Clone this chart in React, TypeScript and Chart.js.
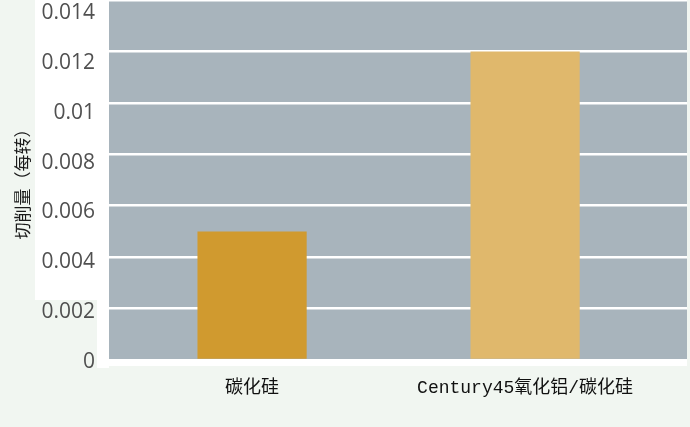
import { useEffect, useRef } from 'react'
import { Chart, registerables } from 'chart.js'

Chart.register(...registerables)

// chart data
const categories = ['碳化硅', 'Century45氧化铝/碳化硅']
const cutAmount = [0.005, 0.012]
const barColors = ['#d09a2f', '#e0b86c']
const yTicks = [0, 0.002, 0.004, 0.006, 0.008, 0.01, 0.012, 0.014]
const yTitle = '切削量（每转）'

// pale patch behind the y tick labels, like in the source image
const backdrop = {
  id: 'backdrop',
  beforeDraw(chart: Chart) {
    const { ctx, chartArea } = chart
    ctx.save()
    ctx.fillStyle = '#f1f6f1'
    ctx.fillRect(0, 0, chart.width, chart.height)
    ctx.fillStyle = '#ffffff'
    ctx.fillRect(35, 0, chartArea.left - 35, chartArea.bottom - 60)
    ctx.fillRect(chartArea.left - 12, 0, 12, chartArea.bottom + 8)
    ctx.fillRect(chartArea.left, chartArea.bottom, chartArea.right - chartArea.left, 6)
    ctx.fillStyle = '#a8b4bc'
    ctx.fillRect(chartArea.left, chartArea.top, chartArea.right - chartArea.left, chartArea.bottom - chartArea.top)
    ctx.restore()
  },
}

export default function App() {
  const canvasRef = useRef<HTMLCanvasElement>(null)

  useEffect(() => {
    document.body.style.margin = '0'
    if (!canvasRef.current) return

    const chart = new Chart(canvasRef.current, {
      type: 'bar',
      data: {
        datasets: [
          {
            data: cutAmount.map((v, i) => ({ x: i, y: v })),
            backgroundColor: barColors,
            borderWidth: 0,
            barPercentage: 0.4,
            categoryPercentage: 1,
            xAxisID: 'x',
            yAxisID: 'y',
          },
        ],
      },
      options: {
        animation: false,
        responsive: true,
        maintainAspectRatio: false,
        layout: { padding: { top: 0, right: 3, bottom: 0, left: 0 } },
        plugins: {
          legend: { display: false },
          tooltip: { enabled: false },
        },
        scales: {
          x: {
            type: 'linear',
            offset: false,
            min: -0.524,
            max: 1.593,
            grid: { display: false },
            border: { display: false },
            afterBuildTicks: (scale: any) => {
              scale.ticks = categories.map((_, i) => ({ value: i }))
            },
            afterFit: (scale: any) => {
              scale.height = 67
              scale.paddingLeft = 0
              scale.paddingRight = 0
            },
            ticks: {
              padding: 9,
              color: '#111111',
              maxRotation: 0,
              autoSkip: false,
              font: { family: '"Liberation Mono", "Noto Sans CJK SC"', size: 18 },
              callback: (v: any) => categories[Number(v)] ?? '',
            },
          },
          y: {
            type: 'linear',
            position: 'left',
            min: 0,
            max: 0.014,
            border: { display: false },
            grid: { color: '#ffffff', lineWidth: 2.5, drawTicks: false },
            afterBuildTicks: (scale: any) => {
              scale.ticks = yTicks.map((v) => ({ value: v }))
            },
            afterFit: (scale: any) => {
              scale.width = 0
              scale.paddingTop = 0
              scale.paddingBottom = 0
            },
            ticks: { display: false },
          },
          // label axis: the source labels drift slightly below their grid lines
          yl: {
            type: 'linear',
            position: 'left',
            min: -0.00008,
            max: 0.014363,
            border: { display: false },
            grid: { display: false, drawTicks: false },
            afterBuildTicks: (scale: any) => {
              scale.ticks = yTicks.map((v) => ({ value: v }))
            },
            afterFit: (scale: any) => {
              scale.width = 109
              scale.paddingTop = 0
              scale.paddingBottom = 0
            },
            title: {
              display: true,
              text: yTitle,
              color: '#1a1a1a',
              padding: { top: 12, bottom: 0 },
              font: { family: '"Noto Sans CJK SC", sans-serif', size: 17 },
            },
            ticks: {
              padding: 14,
              labelOffset: 4,
              color: '#505050',
              font: { family: '"Open Sans", sans-serif', size: 21 },
              callback: (v: any) => String(Number(v)),
            },
          },
        },
      },
      plugins: [backdrop],
    } as any)

    return () => chart.destroy()
  }, [])

  return (
    <div style={{ position: 'relative', width: 690, height: 427 }}>
      <canvas ref={canvasRef} />
    </div>
  )
}
